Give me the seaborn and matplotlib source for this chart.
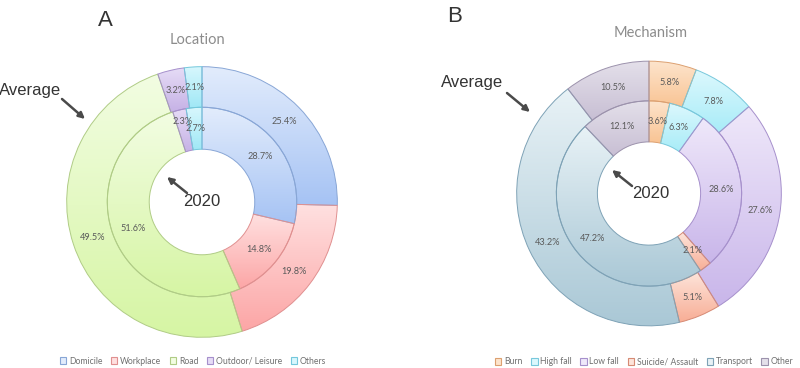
import numpy as np
import matplotlib
matplotlib.use("Agg")
import matplotlib.pyplot as plt
import seaborn as sns
from matplotlib.patches import Patch
from matplotlib.colors import to_rgb

# Panel A - injury location (%)
loc_labels = ["Domicile", "Workplace", "Road", "Outdoor/ Leisure", "Others"]
loc_avg = [25.4, 19.8, 49.5, 3.2, 2.1]
loc_2020 = [28.7, 14.8, 51.6, 2.3, 2.7]

# Panel B - injury mechanism (%)
mech_labels = ["Burn", "High fall", "Low fall", "Suicide/ Assault", "Transport", "Other"]
mech_avg = [5.8, 7.8, 27.6, 5.1, 43.2, 10.5]
mech_2020 = [3.6, 6.3, 28.6, 2.1, 47.2, 12.1]

# colours (light top / dark bottom of the gradient, edge)
loc_light = ["#e2ecfc", "#ffe0e0", "#f2fde2", "#e6dcf6", "#d8f7fd"]
loc_dark = ["#a6c3f4", "#fca6a6", "#d6f5a4", "#c6b2e6", "#a0e8f6"]
loc_edge = ["#88a6d6", "#e09090", "#b0cc86", "#a690cc", "#74c8dc"]

mech_light = ["#fde4cc", "#dcf8fd", "#efe8fa", "#fde4da", "#e8f2f6", "#e4e0ea"]
mech_dark = ["#f9c494", "#a8ecf8", "#c9b6ea", "#f8ae96", "#aac8d6", "#c8bfd4"]
mech_edge = ["#dca070", "#78c8dc", "#a690cc", "#d68a74", "#7ea2b6", "#9c92ac"]

sns.set_theme(style="white")
plt.rcParams["font.family"] = ["Lato", "DejaVu Sans"]

W, H = 800, 368
fig = plt.figure(figsize=(8, 3.68), dpi=100)


def grad_ring(ax, values, radius, width, light, dark, edge, nudge=None):
    wedges, _ = ax.pie(values, radius=radius, startangle=90, counterclock=False,
                       colors=light, wedgeprops=dict(width=width, linewidth=0.7))
    nudge = nudge or {}
    for i, w in enumerate(wedges):
        ext = w.get_path().get_extents()
        c1, c2 = np.array(to_rgb(light[i])), np.array(to_rgb(dark[i]))
        t = np.linspace(0, 1, 64)[:, None, None]
        img = c1 + (c2 - c1) * t
        im = ax.imshow(img, extent=(ext.x0, ext.x1, ext.y0, ext.y1), origin="upper",
                       aspect="auto", interpolation="bilinear", zorder=1)
        im.set_clip_path(w)
        w.set_facecolor("none")
        w.set_edgecolor(edge[i])
        w.set_zorder(2)
        mid = np.deg2rad((w.theta1 + w.theta2) / 2)
        r = w.r - w.width / 2 + nudge.get(i, 0)
        ax.text(r * np.cos(mid), r * np.sin(mid), f"{values[i]}%", ha="center",
                va="center", fontsize=6.6, color="#5a5a5a", zorder=3)
    return wedges


def donut(rect, avg, yr, light, dark, edge, hole, nudge=None):
    ax = fig.add_axes(rect)
    grad_ring(ax, avg, 1.0, 0.30, light, dark, edge)
    grad_ring(ax, yr, 0.70, 0.70 - hole, light, dark, edge, nudge)
    ax.set_xlim(-1.005, 1.005)
    ax.set_ylim(-1.005, 1.005)
    ax.set_aspect("equal")
    ax.axis("off")
    return ax


donut([66 / W, 30 / H, 272 / W, 272 / H], loc_avg, loc_2020, loc_light, loc_dark, loc_edge, 0.39,
      nudge={3: 0.07})
donut([516 / W, 41.5 / H, 266 / W, 266 / H], mech_avg, mech_2020, mech_light, mech_dark, mech_edge, 0.39)

# overlay in pixel coordinates for titles, notes and arrows
ov = fig.add_axes([0, 0, 1, 1], zorder=10)
ov.set_xlim(0, W)
ov.set_ylim(H, 0)
ov.axis("off")

arial = ["Liberation Sans", "DejaVu Sans"]
ov.text(105, 20, "A", fontsize=16, color="#333333", ha="center", va="center", family=arial)
ov.text(455, 17, "B", fontsize=16, color="#333333", ha="center", va="center", family=arial)
ov.text(197, 40, "Location", fontsize=10.5, color="#8c8c8c", ha="center", va="center")
ov.text(651, 33, "Mechanism", fontsize=10.5, color="#8c8c8c", ha="center", va="center")

arrow = dict(arrowstyle="-|>", color="#4a4a4a", lw=1.8, mutation_scale=9, shrinkA=0, shrinkB=0)
ov.text(30, 90, "Average", fontsize=12, color="#333333", ha="center", va="center", family=arial)
ov.annotate("", xy=(85, 119), xytext=(62, 99), arrowprops=arrow)
ov.text(202, 202, "2020", fontsize=12, color="#333333", ha="center", va="center", family=arial)
ov.annotate("", xy=(167, 177), xytext=(187, 193), arrowprops=arrow)

ov.text(472, 83, "Average", fontsize=12, color="#333333", ha="center", va="center", family=arial)
ov.annotate("", xy=(530, 112), xytext=(507, 93), arrowprops=arrow)
ov.text(651, 193, "2020", fontsize=12, color="#333333", ha="center", va="center", family=arial)
ov.annotate("", xy=(612, 170), xytext=(632, 186), arrowprops=arrow)

legend_kw = dict(loc="center", frameon=False, fontsize=6.2, handlelength=0.75, handleheight=0.75,
                 handletextpad=0.3, columnspacing=1.0, labelcolor="#707070", borderpad=0)
h1 = [Patch(facecolor=l, edgecolor=e, linewidth=0.8) for l, e in zip(loc_light, loc_edge)]
fig.legend(h1, loc_labels, ncol=len(h1), bbox_to_anchor=(193 / W, 1 - 361 / H), **legend_kw)
h2 = [Patch(facecolor=l, edgecolor=e, linewidth=0.8) for l, e in zip(mech_light, mech_edge)]
fig.legend(h2, mech_labels, ncol=len(h2), bbox_to_anchor=(644 / W, 1 - 362 / H), **legend_kw)

fig.savefig("out.png", dpi=100)
